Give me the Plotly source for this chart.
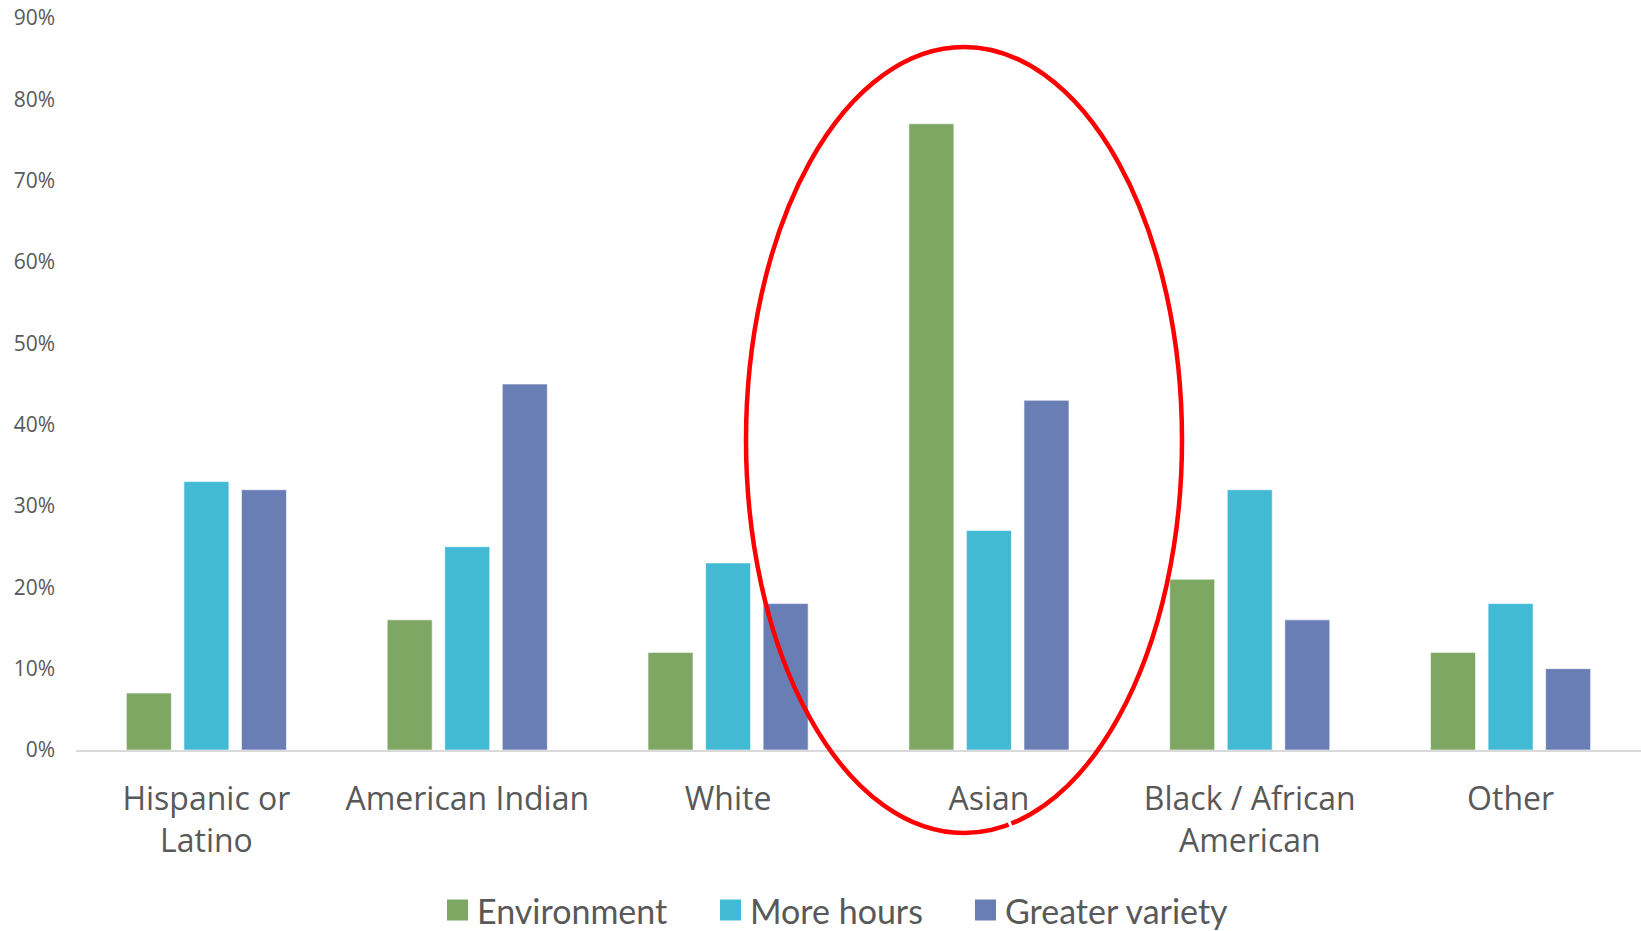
import plotly.graph_objects as go

# Survey results by group (percent of respondents)
categories = ["Hispanic or<br>Latino", "American Indian", "White", "Asian",
              "Black / African<br>American", "Other"]
environment = [7, 16, 12, 77, 21, 12]
more_hours = [33, 25, 23, 27, 32, 18]
greater_variety = [32, 45, 18, 43, 16, 10]
y_ticks = [0, 10, 20, 30, 40, 50, 60, 70, 80, 90]
y_tick_text = [f"{v}%" for v in y_ticks]

series = [
    ("Environment", environment, "#7EA764"),
    ("More hours", more_hours, "#43BAD3"),
    ("Greater variety", greater_variety, "#6A7EB6"),
]

W, H = 1641, 931
M_L, M_R, M_T, M_B = 76, 0, 18, 181
PW, PH = W - M_L - M_R, H - M_T - M_B


def px_to_paper(px, py):
    return (px - M_L) / PW, (H - M_B - py) / PH


fig = go.Figure()
for name, vals, color in series:
    fig.add_trace(go.Bar(
        x=categories, y=vals, name=name, showlegend=False,
        marker=dict(color=color, line=dict(color="rgba(255,255,255,0.6)", width=1)),
    ))

# Red highlight ellipse around the Asian group (pixel geometry -> paper)
cx, cy, rx, ry = 964, 440, 218, 393
ex0, ey0 = px_to_paper(cx - rx, cy + ry)
ex1, ey1 = px_to_paper(cx + rx, cy - ry)
fig.add_shape(type="circle", xref="paper", yref="paper",
              x0=ex0, x1=ex1, y0=ey0, y1=ey1,
              line=dict(color="#FF0000", width=4.5), layer="above")
# small break in the ellipse outline near the bottom
gx0, gy0 = px_to_paper(1007.1, 816.5)
gx1, gy1 = px_to_paper(1012.9, 831.5)
fig.add_shape(type="line", xref="paper", yref="paper",
              x0=gx0, y0=gy0, x1=gx1, y1=gy1,
              line=dict(color="white", width=3), layer="above")

# Legend drawn as swatches + labels along the bottom
legend_x = [447, 720, 975]
legend_y = 910
for (name, _, color), lx in zip(series, legend_x):
    sx0, sy0 = px_to_paper(lx, legend_y + 10.5)
    sx1, sy1 = px_to_paper(lx + 21, legend_y - 10.5)
    fig.add_shape(type="rect", xref="paper", yref="paper",
                  x0=sx0, x1=sx1, y0=sy0, y1=sy1,
                  fillcolor=color, line=dict(width=0))
    tx, ty = px_to_paper(lx + 29, legend_y)
    fig.add_annotation(text=name, xref="paper", yref="paper", x=tx, y=ty,
                       xanchor="left", yanchor="middle", showarrow=False,
                       borderpad=0,
                       font=dict(family="Lato", size=34, color="#595959"))

fig.update_layout(
    width=W, height=H,
    margin=dict(l=M_L, r=M_R, t=M_T, b=M_B),
    paper_bgcolor="white", plot_bgcolor="white",
    barmode="group", bargap=0.338, bargroupgap=0.218,
    font=dict(family="Open Sans", color="#595959"),
    showlegend=False,
)
fig.update_xaxes(
    tickfont=dict(family="Open Sans", size=32, color="#595959"),
    showline=True, linecolor="#D9D9D9", linewidth=2,
    showgrid=False, ticks="", ticklabelstandoff=20,
)
fig.update_yaxes(
    range=[0, 90], tickmode="array", tickvals=y_ticks, ticktext=y_tick_text,
    tickfont=dict(family="Open Sans", size=21, color="#595959"),
    showgrid=False, zeroline=False, showline=False, ticks="",
    ticklabelstandoff=20,
)

fig.write_html("out.html")
